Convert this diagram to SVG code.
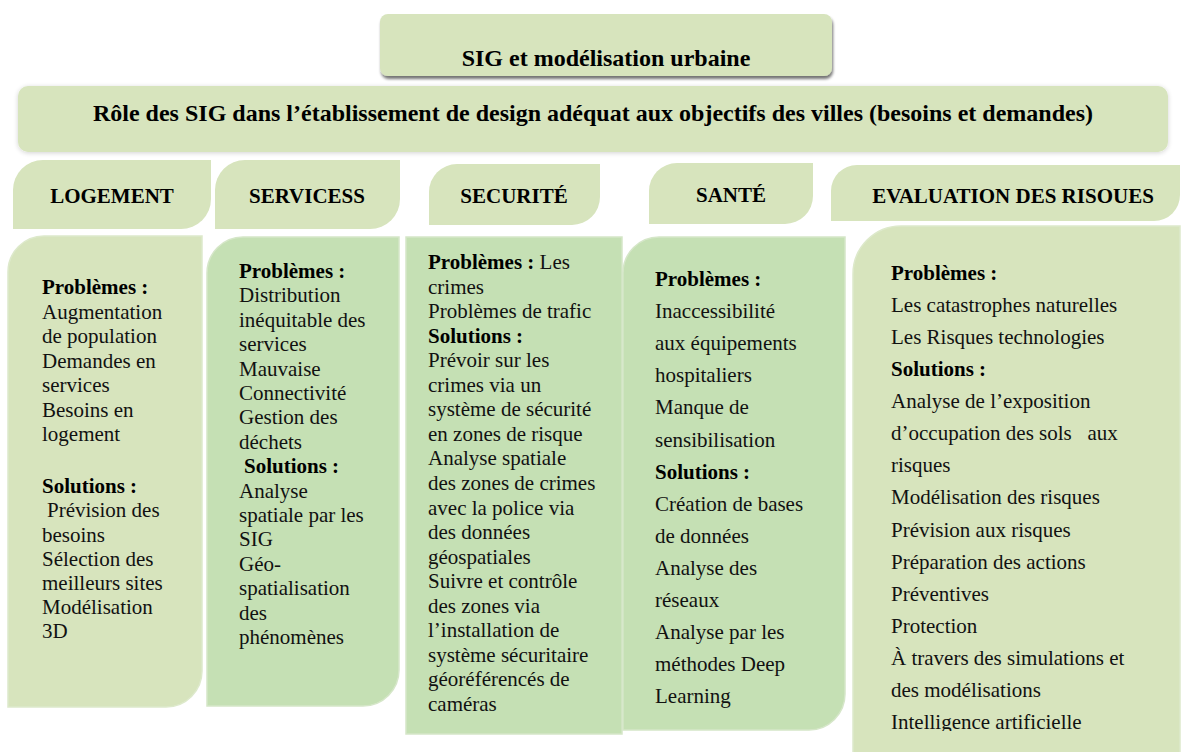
<svg xmlns="http://www.w3.org/2000/svg" width="1189" height="752" viewBox="0 0 1189 752">
<style>
  .olive { fill: #d7e4bd; }
  .green { fill: #c5e0b4; stroke: #d5e6c8; stroke-width: 1.5; }
  .oliveb { fill: #d7e4bd; stroke: #dde9cb; stroke-width: 1.5; }
  text { font-family: "Liberation Serif", "Times New Roman", serif; }
  .title { font-size: 24px; font-weight: bold; fill: #000; text-anchor: middle; }
  .head { font-size: 21px; font-weight: bold; fill: #000; text-anchor: middle; }
  .body { font-size: 21px; fill: #111; }
  .b { font-weight: bold; fill: #000; }
</style>
<defs>
  <filter id="shadow" x="-5%" y="-20%" width="110%" height="150%">
    <feGaussianBlur in="SourceAlpha" stdDeviation="1.8"/>
    <feOffset dx="1" dy="3" result="o"/>
    <feComponentTransfer><feFuncA type="linear" slope="0.55"/></feComponentTransfer>
    <feMerge><feMergeNode/><feMergeNode in="SourceGraphic"/></feMerge>
  </filter>
  <filter id="soft" x="-5%" y="-20%" width="110%" height="150%">
    <feGaussianBlur in="SourceAlpha" stdDeviation="2.5"/>
    <feOffset dx="0" dy="1" result="o"/>
    <feComponentTransfer><feFuncA type="linear" slope="0.18"/></feComponentTransfer>
    <feMerge><feMergeNode/><feMergeNode in="SourceGraphic"/></feMerge>
  </filter>
  <clipPath id="clipEval"><rect x="853" y="226" width="330" height="505"/></clipPath>
</defs>

<g id="title-main">
  <rect class="olive" x="380" y="14" width="452" height="62" rx="8" filter="url(#shadow)"/>
  <text class="title" x="606" y="66">SIG et modélisation urbaine</text>
</g>

<g id="title-role">
  <rect class="olive" x="18" y="86" width="1150" height="66" rx="10" filter="url(#soft)"/>
  <text class="title" x="593" y="121">Rôle des SIG dans l’établissement de design adéquat aux objectifs des villes (besoins et demandes)</text>
</g>

<g id="connectors"></g>

<g id="head-logement">
  <path class="olive" d="M43,160 H211 V199 A30,30 0 0 1 181,229 H13 V190 A30,30 0 0 1 43,160 Z"/>
  <text class="head" x="112" y="203">LOGEMENT</text>
</g>
<g id="head-services">
  <path class="olive" d="M245,160 H400 V199 A30,30 0 0 1 370,229 H215 V190 A30,30 0 0 1 245,160 Z"/>
  <text class="head" x="307" y="203">SERVICESS</text>
</g>
<g id="head-securite">
  <path class="olive" d="M457,164 H600 V197 A28,28 0 0 1 572,225 H429 V192 A28,28 0 0 1 457,164 Z"/>
  <text class="head" x="514" y="203">SECURITÉ</text>
</g>
<g id="head-sante">
  <path class="olive" d="M677,163 H813 V196 A28,28 0 0 1 785,224 H649 V191 A28,28 0 0 1 677,163 Z"/>
  <text class="head" x="731" y="202">SANTÉ</text>
</g>
<g id="head-risques">
  <path class="olive" d="M857,165 H1180 V195 A26,26 0 0 1 1154,221 H831 V191 A26,26 0 0 1 857,165 Z"/>
  <text class="head" x="1013" y="203">EVALUATION DES RISOUES</text>
</g>

<g id="body-logement">
  <path class="oliveb" d="M44,236 H202 V671 A36,36 0 0 1 166,707 H8 V272 A36,36 0 0 1 44,236 Z"/>
  <text class="body">
    <tspan x="42" y="294" class="b">Problèmes :</tspan>
    <tspan x="42" y="318.5">Augmentation</tspan>
    <tspan x="42" y="343">de population</tspan>
    <tspan x="42" y="367.5">Demandes en</tspan>
    <tspan x="42" y="392">services</tspan>
    <tspan x="42" y="416.5">Besoins en</tspan>
    <tspan x="42" y="441">logement</tspan>
    <tspan x="42" y="493" class="b">Solutions :</tspan>
    <tspan x="47" y="517">Prévision des</tspan>
    <tspan x="42" y="541.5">besoins</tspan>
    <tspan x="42" y="566">Sélection des</tspan>
    <tspan x="42" y="590">meilleurs sites</tspan>
    <tspan x="42" y="614">Modélisation</tspan>
    <tspan x="42" y="638">3D</tspan>
  </text>
</g>

<g id="body-services">
  <path class="green" d="M243,237 H399 V670 A36,36 0 0 1 363,706 H207 V273 A36,36 0 0 1 243,237 Z"/>
  <text class="body">
    <tspan x="239" y="278" class="b">Problèmes :</tspan>
    <tspan x="239" y="302.4">Distribution</tspan>
    <tspan x="239" y="326.8">inéquitable des</tspan>
    <tspan x="239" y="351.2">services</tspan>
    <tspan x="239" y="375.6">Mauvaise</tspan>
    <tspan x="239" y="400">Connectivité</tspan>
    <tspan x="239" y="424.4">Gestion des</tspan>
    <tspan x="239" y="448.8">déchets</tspan>
    <tspan x="244" y="473.2" class="b">Solutions :</tspan>
    <tspan x="239" y="497.6">Analyse</tspan>
    <tspan x="239" y="522">spatiale par les</tspan>
    <tspan x="239" y="546.4">SIG</tspan>
    <tspan x="239" y="570.8">Géo-</tspan>
    <tspan x="239" y="595.2">spatialisation</tspan>
    <tspan x="239" y="619.6">des</tspan>
    <tspan x="239" y="644">phénomènes</tspan>
  </text>
</g>

<g id="body-securite">
  <rect class="green" x="406" y="237" width="216" height="497"/>
  <text class="body">
    <tspan x="428" y="269" class="b">Problèmes :</tspan><tspan> Les</tspan>
    <tspan x="428" y="293.55">crimes</tspan>
    <tspan x="428" y="318.1">Problèmes de trafic</tspan>
    <tspan x="428" y="342.65" class="b">Solutions :</tspan>
    <tspan x="428" y="367.2">Prévoir sur les</tspan>
    <tspan x="428" y="391.75">crimes via un</tspan>
    <tspan x="428" y="416.3">système de sécurité</tspan>
    <tspan x="428" y="440.85">en zones de risque</tspan>
    <tspan x="428" y="465.4">Analyse spatiale</tspan>
    <tspan x="428" y="489.95">des zones de crimes</tspan>
    <tspan x="428" y="514.5">avec la police via</tspan>
    <tspan x="428" y="539.05">des données</tspan>
    <tspan x="428" y="563.6">géospatiales</tspan>
    <tspan x="428" y="588.15">Suivre et contrôle</tspan>
    <tspan x="428" y="612.7">des zones via</tspan>
    <tspan x="428" y="637.25">l’installation de</tspan>
    <tspan x="428" y="661.8">système sécuritaire</tspan>
    <tspan x="428" y="686.35">géoréférencés de</tspan>
    <tspan x="428" y="710.9">caméras</tspan>
  </text>
</g>

<g id="body-sante">
  <path class="green" d="M659,237 H845 V694 A36,36 0 0 1 809,730 H623 V273 A36,36 0 0 1 659,237 Z"/>
  <text class="body">
    <tspan x="655" y="286" class="b">Problèmes :</tspan>
    <tspan x="655" y="318.1">Inaccessibilité</tspan>
    <tspan x="655" y="350.2">aux équipements</tspan>
    <tspan x="655" y="382.3">hospitaliers</tspan>
    <tspan x="655" y="414.4">Manque de</tspan>
    <tspan x="655" y="446.5">sensibilisation</tspan>
    <tspan x="655" y="478.6" class="b">Solutions :</tspan>
    <tspan x="655" y="510.7">Création de bases</tspan>
    <tspan x="655" y="542.8">de données</tspan>
    <tspan x="655" y="574.9">Analyse des</tspan>
    <tspan x="655" y="607">réseaux</tspan>
    <tspan x="655" y="639.1">Analyse par les</tspan>
    <tspan x="655" y="671.2">méthodes Deep</tspan>
    <tspan x="655" y="703.3">Learning</tspan>
  </text>
</g>

<g id="body-risques">
  <path class="oliveb" d="M901,226 H1180 V770 H853 V274 A48,48 0 0 1 901,226 Z"/>
  <text class="body" clip-path="url(#clipEval)" xml:space="preserve">
    <tspan x="891" y="280" class="b">Problèmes :</tspan>
    <tspan x="891" y="312.07">Les catastrophes naturelles</tspan>
    <tspan x="891" y="344.14">Les Risques technologies</tspan>
    <tspan x="891" y="376.21" class="b">Solutions :</tspan>
    <tspan x="891" y="408.28">Analyse de l’exposition</tspan>
    <tspan x="891" y="440.35">d’occupation des sols   aux</tspan>
    <tspan x="891" y="472.42">risques</tspan>
    <tspan x="891" y="504.49">Modélisation des risques</tspan>
    <tspan x="891" y="536.56">Prévision aux risques</tspan>
    <tspan x="891" y="568.63">Préparation des actions</tspan>
    <tspan x="891" y="600.7">Préventives</tspan>
    <tspan x="891" y="632.77">Protection</tspan>
    <tspan x="891" y="664.84">À travers des simulations et</tspan>
    <tspan x="891" y="696.91">des modélisations</tspan>
    <tspan x="891" y="728.98">Intelligence artificielle</tspan>
  </text>
</g>
</svg>
